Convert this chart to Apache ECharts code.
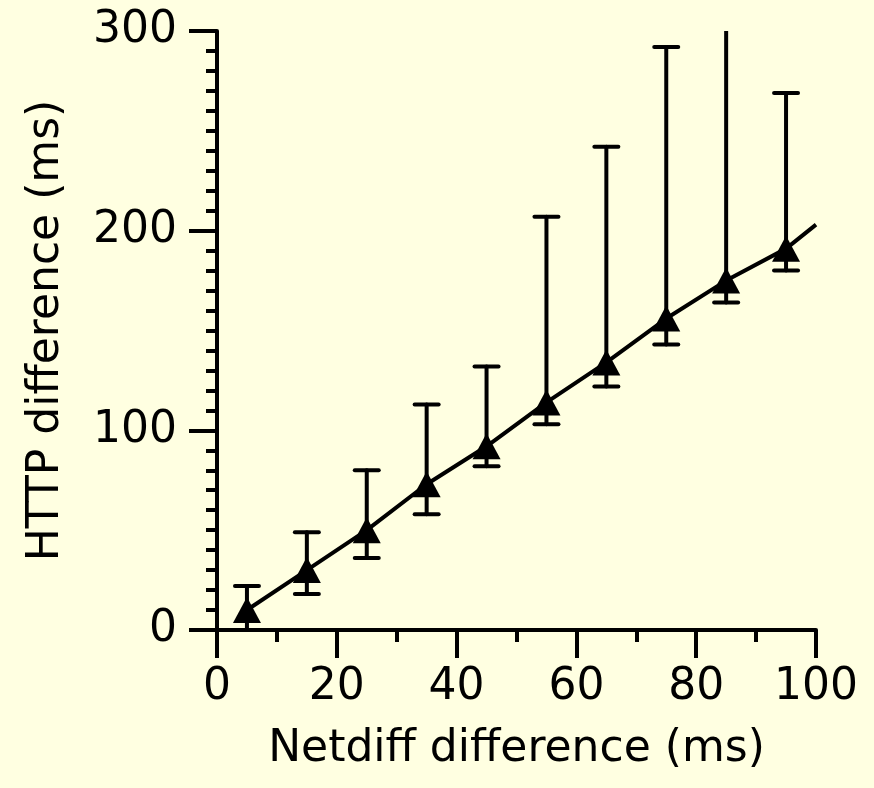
<!DOCTYPE html>
<html>
<head>
<meta charset="utf-8">
<script src="https://cdn.jsdelivr.net/npm/echarts@6/dist/echarts.min.js"></script>
<style>
  html, body { margin: 0; padding: 0; background: #FFFFE1; }
  #chart { width: 874px; height: 788px; }
</style>
</head>
<body>
<div id="chart"></div>
<script>
// x positions (Netdiff difference, ms)
var netdiff = [5, 15, 25, 35, 45, 55, 65, 75, 85, 95];
// mean HTTP difference (ms)
var httpMean = [10, 30, 50, 73, 92, 114, 134, 156, 175, 191];
// error bar ends
var errLow = [0, 18, 36, 58, 82, 103, 122, 143, 164, 180];
var errHigh = [22, 49, 80, 113, 132, 207, 242, 292, 330, 269];
// line continues past the last point to the axis end
var lineEndX = 100;
var lineEndY = 203;

var font = 'DejaVu Sans';

var chart = echarts.init(document.getElementById('chart'));

var meanPts = netdiff.map(function (x, i) { return [x, httpMean[i]]; });
var linePts = meanPts.concat([[lineEndX, lineEndY]]);
var errPts = netdiff.map(function (x, i) { return [x, errLow[i], errHigh[i]]; });

// 误差线
function renderErr(params, api) {
    var x = api.value(0);
    var top = api.coord([x, api.value(2)]);
    var bot = api.coord([x, api.value(1)]);
    var hw = 12;
    var st = { stroke: '#000', lineWidth: 4, lineCap: 'round' };
    return {
        type: 'group',
        children: [
            { type: 'line', shape: { x1: top[0], y1: top[1], x2: bot[0], y2: bot[1] }, style: st },
            { type: 'line', shape: { x1: top[0] - hw, y1: top[1], x2: top[0] + hw, y2: top[1] }, style: st },
            { type: 'line', shape: { x1: bot[0] - hw, y1: bot[1], x2: bot[0] + hw, y2: bot[1] }, style: st }
        ]
    };
}

chart.setOption({
    backgroundColor: '#FFFFE1',
    animation: false,
    grid: { left: 217, right: 58, top: 31, bottom: 158 },
    xAxis: {
        type: 'value',
        min: 0, max: 100, interval: 20,
        name: 'Netdiff difference (ms)',
        nameLocation: 'middle',
        nameGap: 98,
        nameTextStyle: { fontFamily: font, fontSize: 44, color: '#000' },
        axisLine: { show: true, lineStyle: { color: '#000', width: 4 } },
        axisTick: { show: true, length: 28, lineStyle: { color: '#000', width: 4 } },
        minorTick: { show: true, splitNumber: 2, length: 12, lineStyle: { color: '#000', width: 4 } },
        axisLabel: { fontFamily: font, fontSize: 44, color: '#000', margin: 36 },
        splitLine: { show: false }
    },
    yAxis: {
        type: 'value',
        min: 0, max: 300, interval: 100,
        name: 'HTTP difference (ms)',
        nameLocation: 'middle',
        nameGap: 148,
        nameTextStyle: { fontFamily: font, fontSize: 44, color: '#000' },
        axisLine: { show: true, lineStyle: { color: '#000', width: 4 } },
        axisTick: { show: true, length: 28, lineStyle: { color: '#000', width: 4 } },
        minorTick: { show: true, splitNumber: 10, length: 11, lineStyle: { color: '#000', width: 4 } },
        axisLabel: { fontFamily: font, fontSize: 44, color: '#000', margin: 40 },
        splitLine: { show: false }
    },
    series: [
        {
            type: 'custom',
            renderItem: renderErr,
            data: errPts,
            clip: true,
            z: 2
        },
        {
            type: 'line',
            data: linePts,
            showSymbol: false,
            lineStyle: { color: '#000', width: 4 },
            z: 3
        },
        {
            type: 'scatter',
            data: meanPts,
            symbol: 'triangle',
            symbolSize: [28, 26],
            itemStyle: { color: '#000', opacity: 1 },
            z: 4
        }
    ]
});
</script>
</body>
</html>
